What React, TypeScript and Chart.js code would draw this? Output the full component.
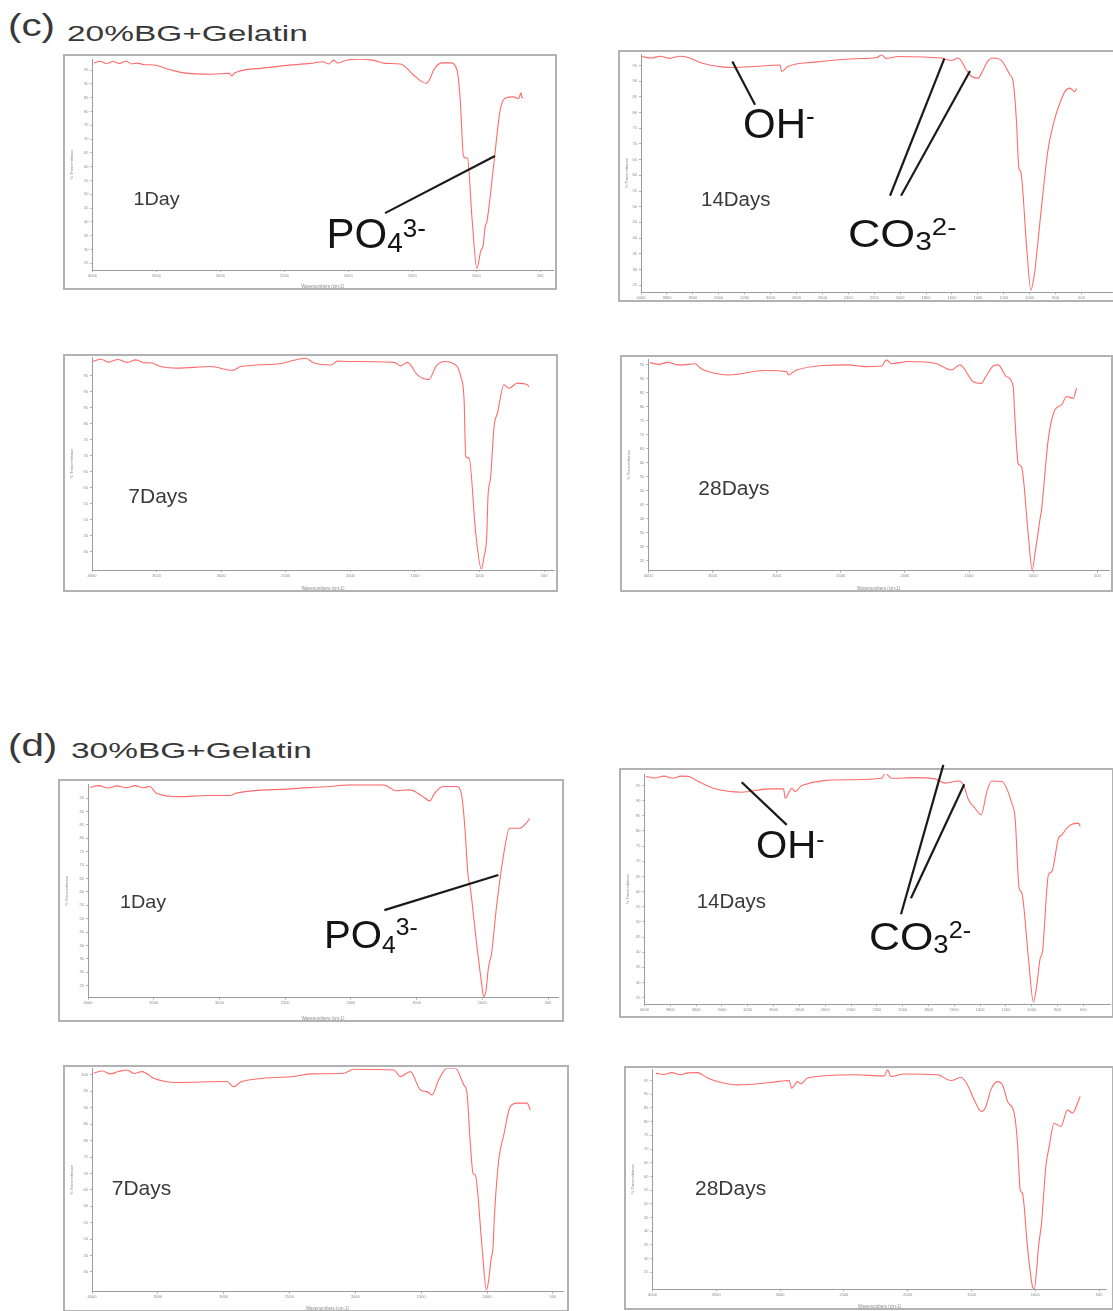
import React, { useEffect, useRef } from "react";
import { Chart, registerables } from "chart.js";

Chart.register(...registerables);

const FONT = '"Liberation Sans", Arial, Helvetica, sans-serif';
const M = 12;
const LINE_RED = "#ff6b6b";
const DAY = "#3a3a3a";
const ION = "#141414";

// tick values of the wavenumber axes
const xTicksWide = [4000, 3500, 3000, 2500, 2000, 1500, 1000, 500];
const xTicksFine = [4000, 3800, 3600, 3400, 3200, 3000, 2800, 2600, 2400, 2200, 2000, 1800, 1600, 1400, 1200, 1000, 800, 600];

// ---------- (c) 20%BG+Gelatin ----------
const c1Wave = [3988, 3940, 3890, 3840, 3790, 3740, 3690, 3650, 3600, 3519, 3400, 3258, 3077, 2930, 2910, 2890, 2686, 2500, 2296, 2200, 2150, 2116, 2080, 2050, 1980, 1906, 1800, 1710, 1593, 1490, 1430, 1390, 1360, 1333, 1268, 1203, 1150, 1125, 1099, 1068, 1034, 995, 963, 948, 930, 917, 865, 813, 774, 709, 670, 650, 644, 636];
const c1Trans = [97.6, 98.2, 97.3, 98.1, 97.4, 98.2, 97.2, 97.5, 97.0, 96.8, 95.2, 93.8, 93.5, 93.8, 92.8, 93.9, 95.6, 96.6, 97.4, 98.0, 97.2, 98.6, 97.5, 98.0, 98.8, 98.9, 98.5, 97.4, 97.2, 93.2, 90.9, 90.2, 92.0, 95.0, 97.6, 97.6, 95.0, 84.1, 63.6, 63.0, 41.9, 23.2, 29.8, 31.0, 38.3, 40.0, 60.0, 80.5, 84.8, 85.3, 84.6, 86.8, 85.2, 85.0];

const c14Wave = [3995, 3920, 3850, 3780, 3700, 3635, 3532, 3300, 3120, 2927, 2915, 2865, 2657, 2349, 2180, 2143, 2110, 2014, 1680, 1603, 1552, 1488, 1449, 1398, 1372, 1320, 1282, 1218, 1153, 1128, 1102, 1084, 1069, 1025, 991, 965, 955, 934, 883, 857, 806, 767, 729, 690, 652, 639];
const c14Trans = [97.9, 97.4, 98.0, 97.3, 98.0, 97.6, 95.8, 94.4, 94.7, 95.2, 93.1, 94.7, 96.1, 97.2, 97.6, 98.4, 97.3, 97.9, 97.4, 96.6, 97.4, 93.6, 91.5, 91.0, 92.6, 96.6, 97.4, 96.6, 92.1, 89.9, 77.1, 62.3, 61.2, 37.8, 23.4, 28.2, 31.4, 39.9, 60.1, 68.6, 78.2, 83.0, 86.7, 87.8, 86.7, 87.8];

const c7Wave = [3993, 3930, 3870, 3800, 3730, 3660, 3600, 3540, 3468, 3339, 3081, 2913, 2849, 2565, 2346, 2281, 2150, 2100, 2023, 1662, 1610, 1559, 1481, 1404, 1391, 1339, 1275, 1210, 1146, 1120, 1107, 1081, 1030, 986, 966, 945, 935, 914, 888, 862, 811, 772, 708, 630, 617];
const c7Trans = [99.5, 100.2, 99.3, 100.1, 99.2, 100.0, 99.1, 99.0, 97.9, 97.4, 97.9, 96.7, 97.9, 98.7, 100.5, 99.0, 98.4, 99.6, 99.5, 99.2, 98.1, 99.2, 95.3, 93.9, 93.9, 97.9, 99.5, 99.0, 94.8, 87.5, 69.7, 69.2, 45.7, 34.5, 38.3, 44.6, 57.2, 63.4, 79.1, 83.3, 92.2, 91.1, 92.7, 92.2, 91.6];

const c28Wave = [3987, 3920, 3850, 3780, 3740, 3636, 3584, 3481, 3377, 3091, 2922, 2909, 2844, 2442, 2312, 2182, 2143, 2104, 1974, 1766, 1636, 1571, 1468, 1403, 1377, 1312, 1273, 1208, 1156, 1143, 1117, 1091, 1039, 1008, 982, 966, 948, 935, 883, 831, 779, 740, 688, 662];
const c28Trans = [95.8, 95.2, 95.9, 95.1, 95.0, 95.4, 93.5, 92.0, 91.4, 93.0, 92.6, 91.4, 93.2, 95.0, 94.4, 94.6, 96.8, 95.4, 96.2, 95.6, 93.2, 95.0, 89.0, 88.4, 90.2, 94.6, 95.0, 90.8, 87.3, 76.5, 59.8, 58.6, 34.8, 21.7, 28.9, 33.6, 39.6, 43.2, 68.2, 78.9, 80.7, 83.7, 83.1, 86.7];

// ---------- (d) 30%BG+Gelatin ----------
const d1Wave = [3987, 3920, 3850, 3780, 3710, 3640, 3580, 3531, 3480, 3303, 3100, 2922, 2871, 2466, 2161, 2009, 1755, 1654, 1553, 1451, 1400, 1362, 1299, 1198, 1160, 1134, 1109, 1091, 1045, 1007, 990, 969, 957, 944, 931, 893, 842, 792, 716, 665, 640];
const d1Trans = [99.0, 99.7, 98.8, 99.6, 98.9, 99.7, 98.9, 99.4, 96.9, 95.6, 96.0, 96.0, 96.9, 98.5, 99.4, 100.0, 100.0, 97.8, 98.1, 95.6, 94.0, 96.9, 99.4, 99.4, 96.9, 85.0, 66.4, 61.4, 41.5, 26.5, 21.0, 24.0, 30.3, 34.0, 36.5, 53.9, 72.6, 83.8, 83.8, 85.7, 87.5];

const d14Wave = [3990, 3920, 3850, 3780, 3720, 3659, 3582, 3453, 3246, 3040, 2923, 2910, 2859, 2833, 2781, 2420, 2162, 2136, 2084, 1903, 1748, 1671, 1568, 1529, 1490, 1439, 1392, 1348, 1310, 1232, 1155, 1129, 1098, 1077, 1026, 987, 961, 935, 917, 871, 845, 793, 767, 716, 638, 625];
const d14Trans = [98.0, 97.5, 98.1, 97.4, 98.1, 98.0, 96.3, 93.9, 92.8, 93.9, 93.9, 90.8, 94.1, 93.0, 95.0, 96.9, 97.4, 99.0, 97.4, 97.6, 97.2, 95.8, 96.5, 95.2, 90.3, 87.5, 85.3, 93.0, 96.5, 96.3, 89.2, 84.2, 61.1, 59.5, 38.0, 23.5, 29.2, 38.0, 40.2, 65.5, 66.6, 77.6, 78.7, 81.5, 82.6, 81.5];

const d7Wave = [3987, 3920, 3860, 3800, 3734, 3680, 3620, 3532, 3354, 2975, 2924, 2861, 2468, 2342, 2089, 2013, 1709, 1658, 1582, 1506, 1456, 1418, 1367, 1304, 1241, 1177, 1152, 1127, 1106, 1089, 1038, 1005, 987, 970, 954, 944, 911, 873, 823, 772, 696, 671];
const d7Trans = [100.5, 101.2, 100.3, 101.0, 101.5, 100.4, 101.0, 99.0, 97.7, 98.0, 96.4, 98.0, 99.5, 100.3, 100.5, 101.7, 101.5, 99.5, 101.0, 95.4, 94.9, 93.9, 98.5, 102.0, 102.0, 97.0, 94.4, 79.2, 70.0, 69.5, 47.7, 34.5, 37.6, 43.7, 47.7, 56.9, 74.1, 81.7, 90.4, 91.4, 91.4, 89.3];

const d28Wave = [3974, 3910, 3850, 3780, 3720, 3647, 3569, 3464, 3334, 3072, 2929, 2910, 2863, 2837, 2785, 2419, 2184, 2158, 2132, 2027, 1766, 1661, 1583, 1531, 1478, 1421, 1387, 1348, 1296, 1256, 1217, 1165, 1139, 1118, 1100, 1061, 1021, 1008, 987, 977, 961, 951, 917, 891, 852, 799, 747, 708, 669, 648];
const d28Trans = [97.7, 97.2, 97.9, 97.1, 97.8, 97.9, 95.9, 94.3, 93.4, 94.3, 95.0, 92.2, 94.6, 93.8, 95.9, 97.1, 96.7, 98.9, 96.5, 97.4, 97.1, 95.0, 96.2, 93.4, 87.9, 83.7, 85.5, 91.6, 94.6, 93.4, 87.3, 83.1, 72.1, 55.0, 53.8, 34.3, 19.7, 19.0, 27.0, 33.1, 39.2, 42.9, 63.6, 70.9, 79.4, 78.2, 84.3, 83.1, 86.7, 89.2];

type Part = { text: string; size: number; dy: number };
type Label = { x: number; y: number; parts: Part[]; color: string; sx: number };
type Seg = { x1: number; y1: number; x2: number; y2: number };
type PanelCfg = {
  id: string;
  wave: number[];
  trans: number[];
  box: { x: number; y: number; w: number; h: number };
  plot: { l: number; t: number; r: number; b: number };
  xMin: number;
  yMin: number;
  yMax: number;
  xTicks: number[];
  showXTitle: boolean;
  rightBorder: boolean;
  lines: Seg[];
  labels: Label[];
};

const day = (text: string, x: number, y: number, size: number, sx: number): Label => ({
  x, y, parts: [{ text, size, dy: 0 }], color: DAY, sx,
});

const PANELS: PanelCfg[] = [
  {
    id: "c1", wave: c1Wave, trans: c1Trans,
    box: { x: 64, y: 55, w: 492, h: 234 }, plot: { l: 92.5, t: 59, r: 553, b: 270 },
    xMin: 400, yMin: 22.6, yMax: 99, xTicks: xTicksWide, showXTitle: true, rightBorder: true,
    lines: [{ x1: 1713, y1: 43.2, x2: 854, y2: 63.9 }],
    labels: [
      day("1Day", 3680, 46.1, 18.5, 1.07),
      { x: 2170, y: 30.4, color: ION, sx: 1, parts: [{ text: "PO", size: 42, dy: 0 }, { text: "4", size: 28, dy: 3.4 }, { text: "3-", size: 26, dy: -11.6 }] },
    ],
  },
  {
    id: "c14", wave: c14Wave, trans: c14Trans,
    box: { x: 619, y: 51, w: 494, h: 250 }, plot: { l: 641, t: 54.3, r: 1112, b: 292.3 },
    xMin: 365, yMin: 22.7, yMax: 98.6, xTicks: xTicksFine, showXTitle: false, rightBorder: false,
    lines: [
      { x1: 3295, y1: 96.3, x2: 3120, y2: 82.5 },
      { x1: 2078, y1: 53.5, x2: 1659, y2: 97.2 },
      { x1: 1993, y1: 53.5, x2: 1461, y2: 93.3 },
    ],
    labels: [
      day("14Days", 3537, 50.3, 19.5, 1.05),
      { x: 3213, y: 72.0, color: ION, sx: 1, parts: [{ text: "OH", size: 42, dy: 0 }, { text: "-", size: 26, dy: -13 }] },
      { x: 2403, y: 37.3, color: ION, sx: 1.15, parts: [{ text: "CO", size: 39, dy: 0 }, { text: "3", size: 26, dy: 3.3 }, { text: "2-", size: 24, dy: -11.7 }] },
    ],
  },
  {
    id: "c7", wave: c7Wave, trans: c7Trans,
    box: { x: 64, y: 355, w: 493, h: 236 }, plot: { l: 92, t: 357.3, r: 554, b: 570 },
    xMin: 424, yMin: 34.2, yMax: 100.8, xTicks: xTicksWide, showXTitle: true, rightBorder: true,
    lines: [],
    labels: [day("7Days", 3719, 55.3, 21, 1)],
  },
  {
    id: "c28", wave: c28Wave, trans: c28Trans,
    box: { x: 621, y: 356, w: 491, h: 235 }, plot: { l: 648.3, t: 359.3, r: 1109, b: 570.7 },
    xMin: 409, yMin: 21.5, yMax: 97, xTicks: xTicksWide, showXTitle: true, rightBorder: true,
    lines: [],
    labels: [day("28Days", 3610, 48.5, 20, 1.05)],
  },
  {
    id: "d1", wave: d1Wave, trans: d1Trans,
    box: { x: 59, y: 780, w: 504, h: 241 }, plot: { l: 88, t: 784.3, r: 558, b: 997.7 },
    xMin: 424, yMin: 20.5, yMax: 100.2, xTicks: xTicksWide, showXTitle: true, rightBorder: true,
    lines: [{ x1: 1745, y1: 53.2, x2: 878, y2: 66.3 }],
    labels: [
      day("1Day", 3757, 53.9, 18.5, 1.07),
      { x: 2204, y: 39.0, color: ION, sx: 1.03, parts: [{ text: "PO", size: 39, dy: 0 }, { text: "4", size: 24, dy: 5 }, { text: "3-", size: 24, dy: -13.3 }] },
    ],
  },
  {
    id: "d14", wave: d14Wave, trans: d14Trans,
    box: { x: 620, y: 769, w: 493, h: 248 }, plot: { l: 644.5, t: 774.3, r: 1110, b: 1004.3 },
    xMin: 394, yMin: 22.8, yMax: 98.7, xTicks: xTicksFine, showXTitle: false, rightBorder: true,
    lines: [
      { x1: 3247, y1: 96.1, x2: 2898, y2: 82.0 },
      { x1: 2013, y1: 52.5, x2: 1685, y2: 101.8 },
      { x1: 1936, y1: 57.8, x2: 1523, y2: 95.4 },
    ],
    labels: [
      day("14Days", 3596, 54.5, 19.5, 1.05),
      { x: 3136, y: 71.2, color: ION, sx: 1.03, parts: [{ text: "OH", size: 39, dy: 0 }, { text: "-", size: 24, dy: -11 }] },
      { x: 2261, y: 40.7, color: ION, sx: 1.1, parts: [{ text: "CO", size: 39, dy: 0 }, { text: "3", size: 25, dy: 3.3 }, { text: "2-", size: 23, dy: -11.7 }] },
    ],
  },
  {
    id: "d7", wave: d7Wave, trans: d7Trans,
    box: { x: 64, y: 1066, w: 504, h: 245 }, plot: { l: 92, t: 1068.3, r: 563, b: 1291.7 },
    xMin: 423, yMin: 34, yMax: 102, xTicks: xTicksWide, showXTitle: true, rightBorder: true,
    lines: [],
    labels: [day("7Days", 3850, 63.5, 21, 1)],
  },
  {
    id: "d28", wave: d28Wave, trans: d28Trans,
    box: { x: 625, y: 1067, w: 488, h: 242 }, plot: { l: 652.5, t: 1069.3, r: 1106.7, b: 1289.3 },
    xMin: 440, yMin: 18.8, yMax: 99.1, xTicks: xTicksWide, showXTitle: true, rightBorder: true,
    lines: [],
    labels: [day("28Days", 3667, 53.3, 20, 1.05)],
  },
];

const AXIS_GREY = "#9c9c9c";
const TICK_TEXT = "#8a8a8a";

function Panel({ cfg }: { cfg: PanelCfg }) {
  const ref = useRef<HTMLCanvasElement | null>(null);
  const W = cfg.box.w + 2 * M;
  const H = cfg.box.h + 2 * M;

  useEffect(() => {
    const canvas = ref.current;
    if (!canvas) return;
    const axisW = cfg.plot.l - cfg.box.x;
    const axisH = cfg.box.y + cfg.box.h - cfg.plot.b;
    const padTop = cfg.plot.t - cfg.box.y;
    const padRight = cfg.box.x + cfg.box.w - cfg.plot.r;

    const overlay = {
      id: "overlay_" + cfg.id,
      afterDraw(chart: any) {
        const ctx: CanvasRenderingContext2D = chart.ctx;
        const xs = chart.scales.x;
        const ys = chart.scales.y;
        ctx.save();
        ctx.strokeStyle = "#b2b2b2";
        ctx.lineWidth = 2;
        const x0 = M, y0 = M, x1 = M + cfg.box.w, y1 = M + cfg.box.h;
        ctx.beginPath();
        if (cfg.rightBorder) {
          ctx.rect(x0, y0, cfg.box.w, cfg.box.h);
        } else {
          ctx.moveTo(x1 + 20, y0);
          ctx.lineTo(x0, y0);
          ctx.lineTo(x0, y1);
          ctx.lineTo(x1 + 20, y1);
        }
        ctx.stroke();
        ctx.strokeStyle = "#1a1a1a";
        ctx.lineWidth = 2.2;
        for (const s of cfg.lines) {
          ctx.beginPath();
          ctx.moveTo(xs.getPixelForValue(s.x1), ys.getPixelForValue(s.y1));
          ctx.lineTo(xs.getPixelForValue(s.x2), ys.getPixelForValue(s.y2));
          ctx.stroke();
        }
        for (const lb of cfg.labels) {
          ctx.save();
          ctx.translate(xs.getPixelForValue(lb.x), ys.getPixelForValue(lb.y));
          ctx.scale(lb.sx, 1);
          ctx.fillStyle = lb.color;
          ctx.textAlign = "left";
          ctx.textBaseline = "alphabetic";
          let cx = 0;
          for (const p of lb.parts) {
            ctx.font = `${p.size}px ${FONT}`;
            ctx.fillText(p.text, cx, p.dy);
            cx += ctx.measureText(p.text).width;
          }
          ctx.restore();
        }
        ctx.restore();
      },
    };

    const chart = new Chart(canvas, {
      type: "line",
      data: {
        datasets: [
          {
            data: cfg.wave.map((w, i) => ({ x: w, y: cfg.trans[i] })),
            borderColor: LINE_RED,
            borderWidth: 1.1,
            pointRadius: 0,
            cubicInterpolationMode: "monotone",
            fill: false,
          },
        ],
      },
      options: {
        animation: false,
        responsive: false,
        maintainAspectRatio: false,
        events: [],
        layout: { padding: { left: M, top: M + padTop, right: M + padRight, bottom: M } },
        plugins: { legend: { display: false }, tooltip: { enabled: false }, title: { display: false } },
        scales: {
          x: {
            type: "linear",
            reverse: true,
            min: cfg.xMin,
            max: 4000,
            afterBuildTicks: (s: any) => {
              s.ticks = cfg.xTicks.map((v) => ({ value: v }));
            },
            afterFit: (s: any) => {
              s.height = axisH;
            },
            ticks: {
              autoSkip: false,
              maxRotation: 0,
              minRotation: 0,
              padding: 1,
              color: TICK_TEXT,
              font: { family: FONT, size: 4 },
              callback: (v: any) => String(v),
            },
            grid: { drawOnChartArea: false, drawTicks: true, tickLength: 2, color: AXIS_GREY, lineWidth: 0.8 },
            border: { display: true, color: AXIS_GREY, width: 1 },
            title: {
              display: cfg.showXTitle,
              text: "Wavenumbers (cm-1)",
              color: TICK_TEXT,
              font: { family: FONT, size: 4.5 },
              padding: { top: 2, bottom: 0 },
            },
          },
          y: {
            type: "linear",
            min: cfg.yMin,
            max: cfg.yMax,
            afterBuildTicks: (s: any) => {
              s.ticks = s.ticks.filter((t: any) => Math.abs(t.value % 5) < 1e-6);
            },
            afterFit: (s: any) => {
              s.width = axisW;
            },
            ticks: {
              stepSize: 5,
              autoSkip: false,
              padding: 2,
              color: TICK_TEXT,
              font: { family: FONT, size: 4 },
              callback: (v: any) => String(v),
            },
            grid: { drawOnChartArea: false, drawTicks: true, tickLength: 2, color: AXIS_GREY, lineWidth: 0.8 },
            border: { display: true, color: AXIS_GREY, width: 1 },
            title: {
              display: true,
              text: "% Transmittance",
              color: TICK_TEXT,
              font: { family: FONT, size: 4 },
              padding: { top: 5, bottom: 0 },
            },
          },
        },
      },
      plugins: [overlay],
    } as any);
    return () => chart.destroy();
  }, [cfg]);

  return (
    <canvas
      ref={ref}
      width={W}
      height={H}
      style={{ position: "absolute", left: cfg.box.x - M, top: cfg.box.y - M, width: W, height: H }}
    />
  );
}

function Heading({ letter, text, top, letterTop, textLeft }: { letter: string; text: string; top: number; letterTop: number; textLeft: number }) {
  return (
    <>
      <div
        style={{
          position: "absolute", left: 8, top: letterTop, fontSize: 31, lineHeight: 1, color: "#383838",
          transform: "scaleX(1.3)", transformOrigin: "left top", whiteSpace: "nowrap", fontFamily: FONT,
        }}
      >
        {letter}
      </div>
      <div
        style={{
          position: "absolute", left: textLeft, top, fontSize: 22, lineHeight: 1, color: "#383838",
          transform: "scaleX(1.52)", transformOrigin: "left top", whiteSpace: "nowrap", fontFamily: FONT,
        }}
      >
        {text}
      </div>
    </>
  );
}

export default function App() {
  return (
    <div
      style={{
        position: "absolute", left: 0, top: 0, width: 1113, height: 1311, overflow: "hidden",
        background: "#ffffff", fontFamily: FONT,
      }}
    >
      <Heading letter="(c)" text="20%BG+Gelatin" letterTop={10.2} top={23.1} textLeft={67} />
      <Heading letter="(d)" text="30%BG+Gelatin" letterTop={729.5} top={740.4} textLeft={71} />
      {PANELS.map((p) => (
        <Panel key={p.id} cfg={p} />
      ))}
    </div>
  );
}
